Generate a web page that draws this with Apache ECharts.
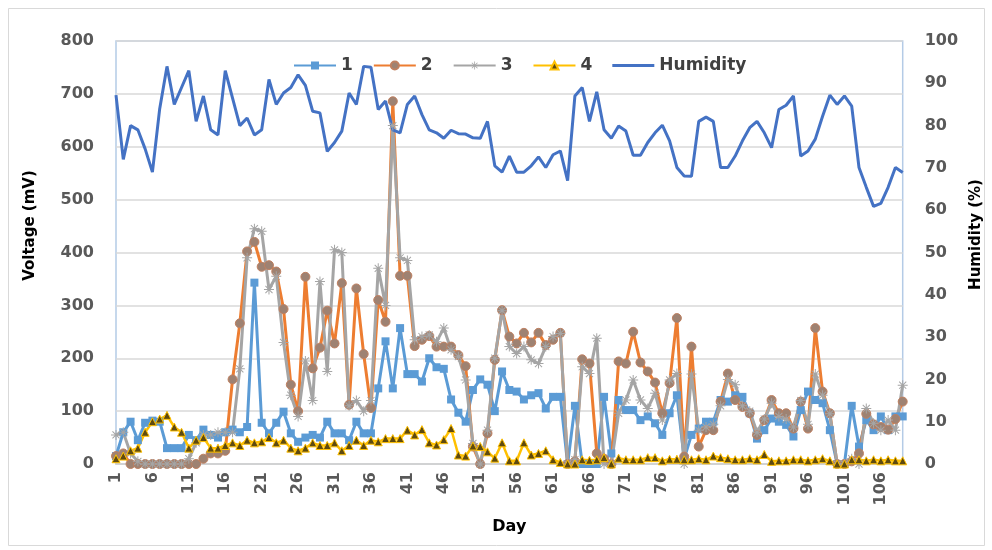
<!DOCTYPE html>
<html>
<head>
<meta charset="utf-8">
<script src="https://cdn.jsdelivr.net/npm/echarts@6/dist/echarts.min.js"></script>
<style>
html,body{margin:0;padding:0;background:#fff;}
#chart{width:992px;height:550px;}
</style>
</head>
<body>
<div id="chart"></div>
<script>
// ---- data ----
const days = [];
for (let i = 1; i <= 109; i++) days.push(String(i));

const series1 = [15,60,80,45,78,82,80,30,30,30,55,45,65,55,50,60,65,60,70,343,
78,58,78,99,58,42,50,55,50,80,58,58,45,80,58,58,143,232,143,257,
170,170,156,200,183,180,122,97,80,140,160,150,100,175,140,137,122,130,134,105,
127,127,0,110,0,0,0,127,20,121,102,102,83,90,77,55,96,130,10,55,
67,80,80,121,118,130,127,96,48,64,86,80,74,52,102,137,121,115,64,0,
0,110,33,83,64,90,64,90,90];

const series2 = [15,20,0,0,0,0,0,0,0,0,0,0,10,20,20,25,160,266,402,420,
373,376,364,293,150,100,354,181,220,290,228,342,112,332,208,106,310,269,686,356,
356,223,235,242,222,222,222,206,185,33,0,58,197,291,241,228,248,230,248,225,
235,248,0,5,198,190,20,10,0,194,190,250,192,175,154,96,153,276,14,222,
33,64,64,118,171,121,108,96,55,83,121,96,96,67,118,67,257,137,96,0,
0,5,20,95,75,70,65,85,118];

const series3 = [55,60,20,5,0,0,0,0,0,0,10,40,55,55,60,60,60,180,390,445,
440,330,355,230,130,90,195,120,345,175,405,400,110,120,100,120,370,300,640,390,
385,235,241,244,231,257,216,203,159,39,0,64,200,290,222,209,222,197,190,222,
241,247,0,8,184,171,238,0,0,96,121,159,121,105,134,83,159,171,0,170,
64,70,75,110,160,150,110,100,60,85,115,90,85,70,120,75,170,130,95,0,
0,10,0,105,77,64,83,64,149];

const series4 = [10,15,25,30,60,80,85,92,70,60,30,45,50,30,30,35,40,35,45,40,
42,50,40,45,30,25,30,40,35,35,40,25,35,45,35,45,42,48,48,48,
64,55,65,40,36,46,67,17,15,34,33,23,11,40,6,6,40,17,20,25,
8,3,0,0,8,7,8,12,0,11,8,8,8,12,12,6,9,9,8,8,
10,8,15,12,10,8,8,10,8,18,5,6,6,8,8,6,8,10,6,0,
0,8,8,6,8,6,8,6,6];

const humidity = [87.2,72,80,79,74.5,69,84,94,85,89,93,81,87,79,77.8,93,86.5,80,81.8,77.8,
79,90.9,85,87.7,89,92,89.5,83.4,83,73.9,76,78.7,87.7,85,94,93.8,83.8,85.8,79,78.3,
85,87,82.6,79,78.3,77,78.9,78.1,78,77.1,77,81,70.5,69,72.8,69,69,70.5,72.6,70.1,
73.1,74,67,87,89,81,88,79,77,79.9,78.7,73,73,76,78.3,80.1,76.4,70.1,68.1,68,
81,82,81,70.1,70.1,72.8,76.4,79.5,81,78.3,74.8,83.8,84.8,87,72.8,74,76.8,82.2,87.2,85,
87,84.6,70.1,65.4,60.9,61.6,65.4,70.1,68.9];

const voltTicks = [0,100,200,300,400,500,600,700,800];
const humTicks = [0,10,20,30,40,50,60,70,80,90,100];

const asterisk = 'path://M9,0L11,0L11,20L9,20Z M0,9L20,9L20,11L0,11Z M2.2,3.6L3.6,2.2L17.8,16.4L16.4,17.8Z M16.4,2.2L17.8,3.6L3.6,17.8L2.2,16.4Z';
const lineIcon = 'path://M0,0L40,0L40,3L0,3Z';

const chart = echarts.init(document.getElementById('chart'));
const labelFont = {fontFamily:'DejaVu Sans', fontWeight:'bold', fontSize:16, color:'#595959'};

chart.setOption({
  backgroundColor:'#fff',
  animation:false,
  graphic:[{type:'rect', shape:{x:8.5,y:8.5,width:976,height:537}, style:{fill:'none', stroke:'#d9d9d9', lineWidth:1}, silent:true}],
  grid:{left:116, right:84, top:41, bottom:86, show:true, borderColor:'#b4cbe6', borderWidth:1.5, backgroundColor:'transparent'},
  legend:{
    left:288, top:52, itemWidth:42, itemHeight:10, itemGap:20,
    textStyle:{fontFamily:'DejaVu Sans', fontWeight:'bold', fontSize:17, color:'#404040'},
    data:['1','2','3','4',{name:'Humidity', icon:lineIcon, itemStyle:{color:'#4472C4'}}]
  },
  xAxis:{
    type:'category', data:days, boundaryGap:false,
    name:'Day', nameLocation:'middle', nameGap:55,
    nameTextStyle:{fontFamily:'DejaVu Sans', fontWeight:'bold', fontSize:16, color:'#000'},
    axisLine:{lineStyle:{color:'#d0d0d0', width:1.5}},
    axisTick:{show:false},
    axisLabel:{...labelFont, interval:4, rotate:90, margin:8}
  },
  yAxis:[{
    type:'value', min:voltTicks[0], max:voltTicks[voltTicks.length-1], interval:100,
    name:'Voltage (mV)', nameLocation:'middle', nameGap:78,
    nameTextStyle:{fontFamily:'DejaVu Sans', fontWeight:'bold', fontSize:15, color:'#000', padding:[0,0,0,54]},
    axisLine:{show:false}, axisTick:{show:false},
    axisLabel:{...labelFont, margin:22},
    splitLine:{lineStyle:{color:'#d9d9d9', width:1.5}}
  },{
    type:'value', min:humTicks[0], max:humTicks[humTicks.length-1], interval:10,
    name:'Humidity (%)', nameLocation:'middle', nameGap:62, nameRotate:90,
    nameTextStyle:{fontFamily:'DejaVu Sans', fontWeight:'bold', fontSize:15, color:'#000', padding:[0,0,0,36]},
    axisLine:{show:false}, axisTick:{show:false},
    axisLabel:{...labelFont, margin:22},
    splitLine:{show:false}
  }],
  series:[
    {name:'1', type:'line', data:series1, yAxisIndex:0, symbol:'rect', symbolSize:8, showAllSymbol:true,
     lineStyle:{color:'#5B9BD5', width:3}, itemStyle:{color:'#5B9BD5'}},
    {name:'2', type:'line', data:series2, yAxisIndex:0, symbol:'circle', symbolSize:9, showAllSymbol:true,
     lineStyle:{color:'#ED7D31', width:3}, itemStyle:{color:'#9E8272', borderColor:'#C08060', borderWidth:1}},
    {name:'3', type:'line', data:series3, yAxisIndex:0, symbol:asterisk, symbolSize:10, showAllSymbol:true,
     lineStyle:{color:'#A5A5A5', width:3}, itemStyle:{color:'#A5A5A5'}},
    {name:'4', type:'line', data:series4, yAxisIndex:0, symbol:'triangle', symbolSize:8, showAllSymbol:true,
     lineStyle:{color:'#FFC000', width:2.5}, itemStyle:{color:'#5E4A10', borderColor:'#FFC000', borderWidth:1}},
    {name:'Humidity', type:'line', data:humidity, yAxisIndex:1, symbol:'none', showSymbol:false,
     lineStyle:{color:'#4472C4', width:3}, itemStyle:{color:'#4472C4'}}
  ]
});
</script>
</body>
</html>
